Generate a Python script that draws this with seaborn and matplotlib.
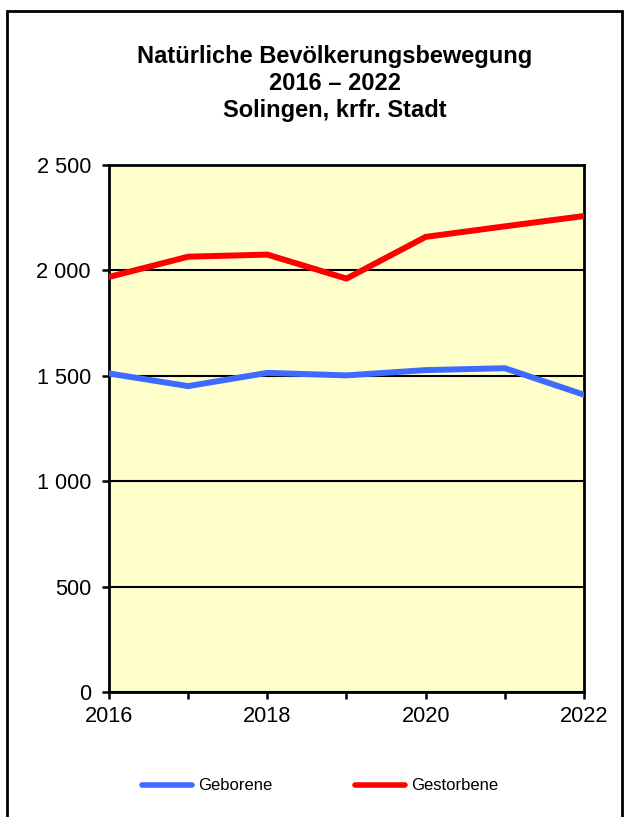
import matplotlib
matplotlib.use("Agg")
import matplotlib.pyplot as plt
from matplotlib.patches import Rectangle
import seaborn as sns
import pandas as pd

years = [2016, 2017, 2018, 2019, 2020, 2021, 2022]
geborene = [1511, 1451, 1514, 1502, 1527, 1536, 1410]
gestorbene = [1969, 2065, 2075, 1961, 2159, 2209, 2258]
series_names = ["Geborene", "Gestorbene"]
series_colors = ["#3D6BFF", "#FF0000"]
y_ticks = [0, 500, 1000, 1500, 2000, 2500]
y_tick_labels = ["0", "500", "1 000", "1 500", "2 000", "2 500"]
x_label_years = [2016, 2018, 2020, 2022]
title_lines = ["Natürliche Bevölkerungsbewegung", "2016 – 2022", "Solingen, krfr. Stadt"]

df = pd.DataFrame({
    "Jahr": years * 2,
    "Wert": geborene + gestorbene,
    "Reihe": [series_names[0]] * len(years) + [series_names[1]] * len(years),
})

sns.set_theme(style="white")
plt.rcParams["font.family"] = ["Liberation Sans", "DejaVu Sans"]
plt.rcParams["text.color"] = "black"

fig = plt.figure(figsize=(6.25, 8.17), dpi=100)
W, H = 625, 817
ax = fig.add_axes([109 / W, 1 - 692 / H, (584 - 109) / W, (692 - 165) / H])
ax.set_facecolor("#FFFFCC")

sns.lineplot(data=df, x="Jahr", y="Wert", hue="Reihe", palette=dict(zip(series_names, series_colors)),
             linewidth=4.3, ax=ax, legend=False, zorder=3)

ax.set_xlim(years[0], years[-1])
ax.set_ylim(y_ticks[0], y_ticks[-1])
ax.set_yticks(y_ticks)
ax.set_yticklabels(y_tick_labels)
ax.set_xticks(years)
ax.set_xticklabels([str(y) if y in x_label_years else "" for y in years])
ax.set_xlabel("")
ax.set_ylabel("")
ax.yaxis.grid(True, color="black", linewidth=1.5, zorder=1)
ax.xaxis.grid(False)
ax.set_axisbelow(True)
for s in ax.spines.values():
    s.set_color("black")
    s.set_linewidth(2)
    s.set_visible(True)
ax.tick_params(axis="both", which="both", direction="out", length=5, width=1.8, color="black",
               labelsize=15.7, labelcolor="black", left=True, bottom=True)
ax.tick_params(axis="y", pad=8)
ax.tick_params(axis="x", pad=5)

fig.text(335 / W, 1 - 83.5 / H, "\n".join(title_lines), ha="center", va="center",
         fontsize=17, fontweight="bold", linespacing=1.2, color="black")

handles = [plt.Line2D([0], [0], color=c, linewidth=4, solid_capstyle="round") for c in series_colors]
fig.legend(handles, series_names, loc="center", bbox_to_anchor=(320 / W, 1 - 786 / H), ncol=2,
           frameon=False, fontsize=12, handlelength=3.0, handletextpad=0.35, columnspacing=5.0)

fig.patches.append(Rectangle((7 / W, -0.05), (622 - 7) / W, 1.05 - 11 / H, transform=fig.transFigure,
                             fill=False, edgecolor="black", linewidth=2))

fig.savefig("out.png", dpi=100)
